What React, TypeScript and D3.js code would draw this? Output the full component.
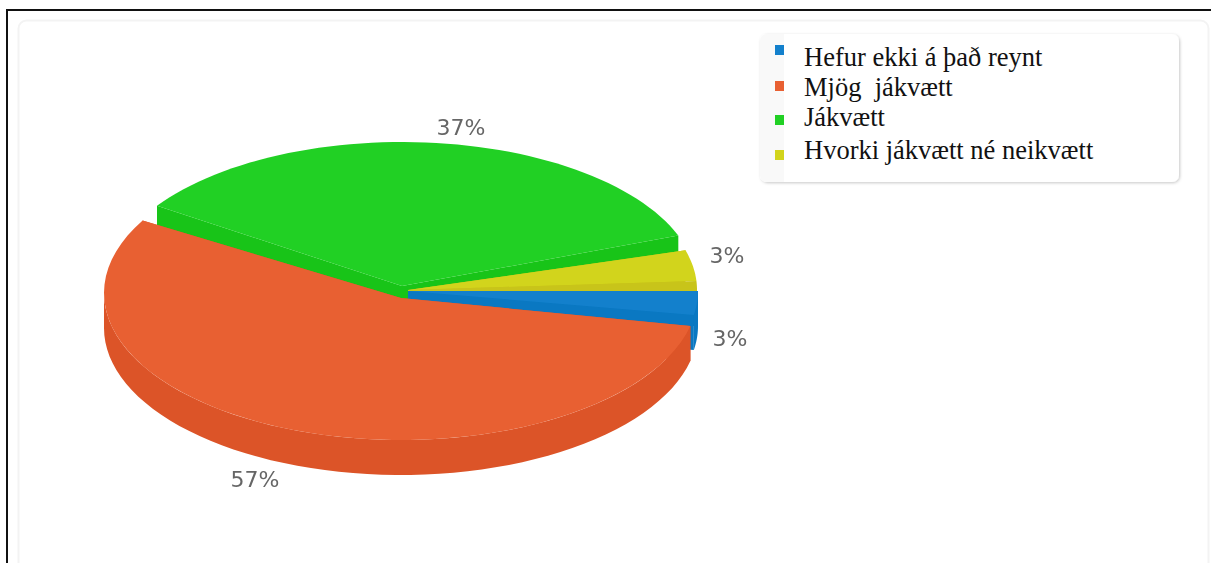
import React from 'react';
import * as d3 from 'd3';

const categories = ['Hefur ekki á það reynt', 'Mjög  jákvætt', 'Jákvætt', 'Hvorki jákvætt né neikvætt'];
// slice sizes as drawn in the picture
const shares = [2.7, 56.7, 34.9, 5.7];
const percentLabels = ['3%', '57%', '37%', '3%'];

const topColors = ['#1380cc', '#e86032', '#21d024', '#d2d41c'];
const wallColors = ['#0a78c2', '#dc5428', '#18c418', '#c8c41a'];

// every slice is pulled out a bit, so each has its own tip and ellipse.
// trims are degrees: the original's perspective moves the rim ends a little
const sliceLayout = [
  { tipX: 408, tipY: 291, cx: 408, cy: 291, rx: 290, ry: 142, startTrim: 0, endTrim: 0, endWall: 0 },
  { tipX: 401, tipY: 298, cx: 401, cy: 293, rx: 297, ry: 147, startTrim: 3.3, endTrim: 4.3, endWall: 0 },
  { tipX: 402, tipY: 286, cx: 402, cy: 286, rx: 295, ry: 144, startTrim: 0, endTrim: 0, endWall: 0 },
  { tipX: 408, tipY: 290, cx: 408, cy: 290, rx: 289, ry: 142, startTrim: 4.3, endTrim: 0, endWall: 3.6 },
];
const labelPos = [
  { x: 730, y: 346 },
  { x: 255, y: 487 },
  { x: 461, y: 135 },
  { x: 727, y: 263 },
];
const legendBaselines = [66, 96, 126, 159];
const markerTops = [45, 81, 115, 150];
const DEPTH = 35;

const pieLayout = d3.pie<number>()
  .sort(null)
  .startAngle(Math.PI / 2)
  .endAngle(Math.PI / 2 + 2 * Math.PI);

const App: React.FC = () => {
  const arcs = pieLayout(shares);

  const point = (i: number, a: number, drop = 0): [number, number] => {
    const s = sliceLayout[i];
    const t = a - Math.PI / 2;
    return [s.cx + s.rx * Math.cos(t), s.cy + s.ry * Math.sin(t) + drop];
  };
  const rim = (i: number, a0: number, a1: number, drop = 0): [number, number][] => {
    const n = 60;
    return d3.range(n + 1).map(k => point(i, a0 + ((a1 - a0) * k) / n, drop));
  };
  const line = d3.line<[number, number]>().curve(d3.curveLinear);
  const rad = (deg: number) => (deg * Math.PI) / 180;

  const sliceShapes = (i: number) => {
    const s = sliceLayout[i];
    const a0 = arcs[i].startAngle + rad(s.startTrim);
    const a1 = arcs[i].endAngle - rad(s.endTrim);
    const c: [number, number] = [s.tipX, s.tipY];
    const cDown: [number, number] = [s.tipX, s.tipY + DEPTH];
    const shapes: { d: string; fill: string }[] = [];
    // cut faces
    shapes.push({ d: line([c, point(i, a0), point(i, a0, DEPTH), cDown])! + 'Z', fill: wallColors[i] });
    shapes.push({ d: line([c, point(i, a1), point(i, a1, DEPTH), cDown])! + 'Z', fill: wallColors[i] });
    // outer wall, only the part facing the viewer (upper half of the turn is hidden)
    const wallFrom = Math.max(a0, Math.PI / 2);
    const wallTo = Math.min(a1, Math.PI * 1.5);
    if (wallTo > wallFrom) {
      const outer = [...rim(i, wallFrom, wallTo), ...rim(i, wallFrom, wallTo, DEPTH).reverse()];
      shapes.push({ d: line(outer)! + 'Z', fill: wallColors[i] });
    }
    // top face
    const topEnd = a1 - rad(s.endWall);
    shapes.push({ d: line([c, ...rim(i, a0, topEnd)])! + 'Z', fill: topColors[i] });
    if (s.endWall > 0) {
      shapes.push({ d: line([c, ...rim(i, topEnd, a1)])! + 'Z', fill: wallColors[i] });
    }
    return shapes;
  };

  // painted back to front
  const paintOrder = [2, 3, 0, 1];

  return (
    <svg
      width={1211}
      height={563}
      style={{ position: 'absolute', left: 0, top: 0, background: '#fff', display: 'block' }}
    >
      <defs>
        <filter id="legendShadow" x="-5%" y="-10%" width="110%" height="120%">
          <feDropShadow dx="1" dy="1" stdDeviation="1.5" floodColor="#000" floodOpacity="0.22" />
        </filter>
        <filter id="soft" x="-5%" y="-5%" width="110%" height="110%">
          <feGaussianBlur stdDeviation="0.4" />
        </filter>
      </defs>

      {/* outer frame */}
      <path d="M7,563V10H1211" fill="none" stroke="#111" strokeWidth={2} />
      {/* chart panel */}
      <rect x={18.5} y={20.5} width={1190} height={560} rx={8} fill="#fff" stroke="#f3f3f3" strokeWidth={2} />

      {paintOrder.map(i => (
        <g key={categories[i]}>
          {sliceShapes(i).map((p, k) => (
            <path key={k} d={p.d} fill={p.fill} />
          ))}
        </g>
      ))}

      {percentLabels.map((t, i) => (
        <text
          key={i}
          x={labelPos[i].x}
          y={labelPos[i].y}
          textAnchor="middle"
          fontFamily="'DejaVu Sans', sans-serif"
          fontSize={22}
          fill="#666"
          filter="url(#soft)"
        >
          {t}
        </text>
      ))}

      {/* legend */}
      <rect x={760} y={34} width={419} height={148} rx={7} fill="#fff" filter="url(#legendShadow)" />
      <path d="M784,34H767a7,7 0 0 0 -7,7V175a7,7 0 0 0 7,7H784Z" fill="#f9f9f9" />
      {categories.map((c, i) => (
        <g key={c}>
          <rect x={775} y={markerTops[i]} width={9} height={10} fill={topColors[i]} />
          <text
            x={804}
            y={legendBaselines[i]}
            fontFamily="'Liberation Serif', serif"
            fontSize={26.5}
            fill="#111"
            style={{ whiteSpace: 'pre' }}
          >
            {c}
          </text>
        </g>
      ))}
    </svg>
  );
};

export default App;
